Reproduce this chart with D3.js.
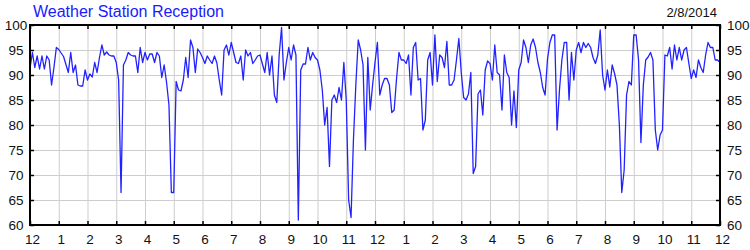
<!DOCTYPE html>
<html>
<head>
<meta charset="utf-8">
<script src="https://cdn.jsdelivr.net/npm/d3@7"></script>
<style>
  body { margin: 0; background: #fff; }
  svg { font-family: "Liberation Sans", Arial, sans-serif; }
</style>
</head>
<body>
<svg id="drawing_region"></svg>
<script>
const title = "Weather Station Reception";
const dateLabel = "2/8/2014";
const stepMinutes = 5;
const hourTicks = d3.range(0, 25);
const yTicks = [60, 65, 70, 75, 80, 85, 90, 95, 100];
// reception %, one reading every 5 minutes from midnight to midnight
const reception = [
  91.3, 94.5, 91.5, 93.8, 91.2, 93.8, 91.2, 93.8, 93, 88, 91.5, 95.5,
  95.1, 94.4, 93.7, 92.1, 90.5, 94.5, 90.5, 92, 88, 87.8, 87.8, 91,
  89, 90.2, 89.6, 92.5, 90.5, 93.5, 96, 94, 94.6, 94, 93.8, 93.8,
  92.5, 89, 66.5, 92, 93, 94.5, 94, 93.8, 93.8, 90.5, 95.5, 92.5,
  94.5, 93, 94.2, 94.2, 92.5, 94.5, 93.8, 89.5, 92, 88.5, 84, 66.5,
  66.5, 88.7, 87, 86.8, 89, 93.5, 89.5, 97, 95.5, 90.5, 95.2, 94.5,
  93.5, 92.3, 93.8, 93, 92.3, 93.8, 92.4, 89, 86, 95, 96, 94,
  96.5, 94.5, 92.5, 92.3, 93.8, 89, 95, 93.8, 94.5, 92.3, 93, 93.8,
  94, 92.2, 90.5, 94.5, 90, 93.8, 86, 84.5, 94, 99.5, 89, 92.5,
  95.5, 93, 96, 94, 61, 91, 92.2, 92.2, 95.5, 93, 94.5, 93.5,
  93, 91, 87, 80, 83.5, 71.7, 85, 86, 84.5, 87.5, 85, 92.5,
  85, 65, 61.5, 77, 88, 97, 95, 92, 75, 93.5, 83, 88,
  92.5, 96.5, 86, 88, 89.3, 89.3, 88, 82.5, 83, 89.3, 94.5, 93,
  93, 92.3, 94, 86, 95.5, 96.5, 89, 89.3, 79, 81, 93, 94.5,
  88, 98, 88.7, 94, 93.5, 91.5, 96.7, 88, 88, 89, 93, 97.3,
  90.5, 85.5, 85, 86.2, 90.5, 70.3, 71.7, 86.2, 87, 82, 91, 92.8,
  92.3, 89, 96, 90.5, 90, 83, 94, 90.5, 89.5, 80, 86.8, 79.5,
  91, 92.5, 97, 95.5, 92.5, 96, 97.2, 95.5, 92.5, 90.5, 87.5, 86,
  93.2, 96.5, 98, 98, 79, 87, 93, 96.5, 96.5, 85, 94.5, 89,
  95, 96.5, 94.5, 96.5, 95.5, 96.3, 95.5, 93.5, 92.3, 94, 99, 90,
  87, 91, 87.6, 92, 90.3, 88, 80, 66.5, 71, 86, 88.7, 88,
  98, 98, 93, 76.5, 88, 93, 93.6, 94.5, 93, 79, 75, 78,
  79, 94, 93.8, 95.5, 91.2, 96, 93, 95.5, 93, 95, 95.5, 92.3,
  89.3, 91, 89.5, 93, 91.5, 90.5, 94, 96.5, 95.5, 95.5, 93, 93,
  92.5
];

const config = {
  width: 750,
  height: 250,
  margin: {top: 25, right: 30, bottom: 25, left: 30}
};

const svg = d3.select('#drawing_region')
  .attr('width', config.width)
  .attr('height', config.height);

const inner_width = config.width - config.margin.left - config.margin.right;
const inner_height = config.height - config.margin.top - config.margin.bottom;

const chart = svg.append('g')
  .attr('transform', `translate(${config.margin.left}, ${config.margin.top})`);

const xscale = d3.scaleLinear()
  .domain([0, 24 * 60])
  .range([0, inner_width]);

const yscale = d3.scaleLinear()
  .domain([60, 100])
  .range([inner_height, 0]);

// grid
chart.append('g')
  .attr('class', 'grid')
  .call(d3.axisBottom(xscale).tickValues(hourTicks.map(h => h * 60))
    .tickSize(inner_height).tickFormat(''));
chart.append('g')
  .attr('class', 'grid')
  .call(d3.axisRight(yscale).tickValues(yTicks).tickSize(inner_width).tickFormat(''));
chart.selectAll('.grid .domain').remove();
chart.selectAll('.grid line').attr('stroke', '#cdcdcd').attr('stroke-width', 1);

// data line
const line = d3.line()
  .x((d, i) => xscale(i * stepMinutes))
  .y(d => yscale(d));

chart.append('path')
  .datum(reception)
  .attr('fill', 'none')
  .attr('stroke', '#2222ff')
  .attr('stroke-width', 1.3)
  .attr('stroke-linejoin', 'round')
  .attr('d', line);

// frame
chart.append('rect')
  .attr('width', inner_width)
  .attr('height', inner_height)
  .attr('fill', 'none')
  .attr('stroke', '#000')
  .attr('stroke-width', 2);

const hourFormat = m => { const h = (m / 60) % 12; return h === 0 ? '12' : String(h); };

const xaxis = d3.axisBottom(xscale)
  .tickValues(hourTicks.map(h => h * 60))
  .tickFormat(hourFormat)
  .tickSizeInner(-4).tickSizeOuter(0).tickPadding(9);
const xaxis_top = d3.axisTop(xscale)
  .tickValues(hourTicks.map(h => h * 60))
  .tickFormat('')
  .tickSizeInner(-4).tickSizeOuter(0);
const yaxis = d3.axisLeft(yscale).tickValues(yTicks).tickSizeInner(-4).tickSizeOuter(0).tickPadding(14);
const yaxis_right = d3.axisRight(yscale).tickValues(yTicks).tickSizeInner(-4).tickSizeOuter(0).tickPadding(7);

const xgroup = chart.append('g').attr('transform', `translate(0, ${inner_height})`).call(xaxis);
chart.append('g').call(xaxis_top);
const ygroup = chart.append('g').call(yaxis);
chart.append('g').attr('transform', `translate(${inner_width}, 0)`).call(yaxis_right);

chart.selectAll('.domain').remove();
chart.selectAll('.tick line').filter(function() { return !this.closest('.grid'); })
  .attr('stroke', '#000').attr('stroke-width', 1.5);
chart.selectAll('.tick text')
  .attr('font-family', '"Liberation Sans", Arial, sans-serif')
  .attr('font-size', 13.5)
  .attr('fill', '#111');
xgroup.selectAll('.tick text').attr('dx', 2);
ygroup.selectAll('.tick text').attr('text-anchor', 'middle');

// titles
svg.append('text')
  .attr('x', 33)
  .attr('y', 17)
  .attr('font-size', 16)
  .attr('fill', '#1a1aff')
  .text(title);

svg.append('text')
  .attr('x', 717)
  .attr('y', 17)
  .attr('text-anchor', 'end')
  .attr('font-size', 13)
  .attr('fill', '#111')
  .text(dateLabel);
</script>
</body>
</html>
